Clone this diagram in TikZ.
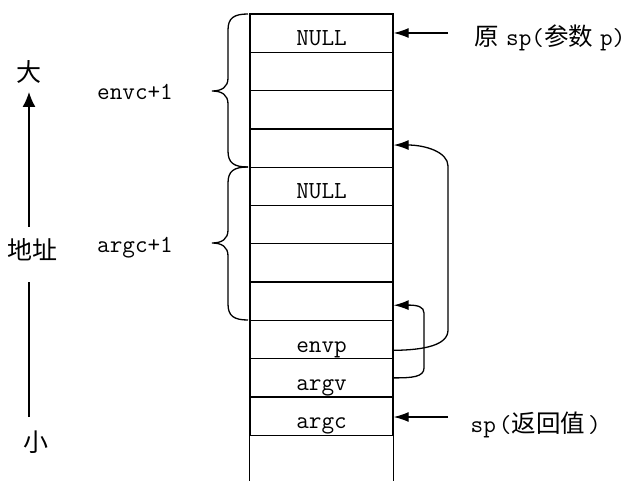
\documentclass[tikz,border=0pt]{standalone}
\usepackage{fontspec}
\newfontfamily\cjk{Noto Sans CJK SC}
\usetikzlibrary{arrows.meta}
\begin{document}
\begin{tikzpicture}[x=1pt,y=-1pt,line width=1.3pt,
  cell/.style={draw,minimum width=143pt,minimum height=38.3pt,inner sep=0pt,
    text height=31.8pt,text depth=6.5pt,font=\fontsize{24.5}{28}\selectfont\ttfamily},
  lbl/.style={inner sep=0pt,font=\fontsize{24.5}{28}\selectfont\ttfamily},
  cjklbl/.style={inner sep=0pt,font=\fontsize{25}{28}\selectfont\cjk},
  ptr/.style={-{Latex[length=15pt,width=10pt]}},
  axisarrow/.style={-{Latex[length=15pt,width=13pt]}},
  bracepath/.style={line width=1.3pt}]
\useasboundingbox (0,0) rectangle (629,481);
% stack cells
\foreach \i/\t in {1/NULL,2/,3/,4/,5/NULL,6/,7/,8/,9/envp,10/argv,11/argc}{
  \node[cell] (c\i) at (321.5,{14+38.3*(\i-0.5)}) {\t};
}
\coordinate (bot) at (321.5,481);
\draw (c11.south west) -- (c11.south west |- bot);
\draw (c11.south east) -- (c11.south east |- bot);
% braces
\draw[bracepath] (248,14) .. controls (234,14) and (228,18) .. (228,30) -- (228,78)
  .. controls (228,87) and (222,91) .. (212,91)
  .. controls (222,91) and (228,95) .. (228,104) -- (228,151)
  .. controls (228,163) and (234,167) .. (248,167);
\draw[bracepath] (248,167) .. controls (234,167) and (228,171) .. (228,183) -- (228,230)
  .. controls (228,239) and (222,243) .. (212,243)
  .. controls (222,243) and (228,247) .. (228,256) -- (228,304)
  .. controls (228,316) and (234,320) .. (248,320);
\node[lbl,anchor=base] (envc) at (135,100) {envc+1};
\node[lbl,anchor=base] (argcc) at (135,252) {argc+1};
% axis
\node[cjklbl] (da) at (29,72) {大};
\node[cjklbl] (dizhi) at (32,250) {地址};
\node[cjklbl] (xiao) at (36,442) {小};
\coordinate (ax1) at (29,417);
\coordinate (ax2) at (29,282);
\coordinate (ax3) at (29,227);
\coordinate (ax4) at (29,92);
\draw (ax1) -- (ax2);
\draw[axisarrow] (ax3) -- (ax4);
% pointer labels
\node[lbl,anchor=base west] (orig) at (474,46) {{\cjk 原}\hspace{7pt}sp({\cjk 参数}\hspace{7pt}p)};
\node[lbl,anchor=base west] (ret) at (470,432) {sp\hspace{3pt}({\cjk 返回值}\hspace{3pt})};
\coordinate (p1) at (448,33);
\coordinate (p2) at (448,417);
\draw[ptr] (p1) -- (c1.east |- p1);
\draw[ptr] (p2) -- (c11.east |- p2);
% curved pointers
\draw[ptr] ([yshift=9pt]c9.south east) .. controls (425,350) and (448,345) .. (448,330)
  -- (448,166) .. controls (448,152) and (425,145) .. ([yshift=3pt]c4.east);
\draw[ptr] (c10.east) .. controls (412,378) and (424,377) .. (424,368)
  -- (424,313) .. controls (424,307) and (418,305) .. ([yshift=-4pt]c8.east);
\end{tikzpicture}
\end{document}
